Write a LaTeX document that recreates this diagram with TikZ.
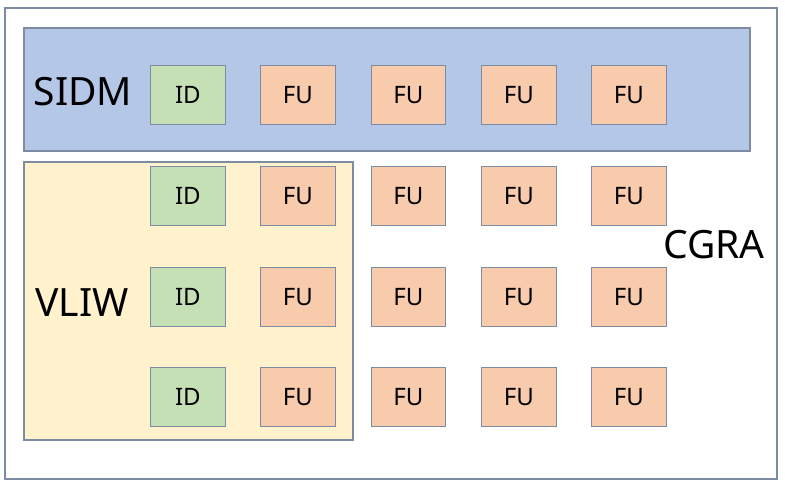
\documentclass[tikz,border=0pt]{standalone}
\usepackage{fontspec}
\setmainfont{Noto Sans}
\definecolor{edge}{HTML}{7E8CA3}
\definecolor{sidmfill}{HTML}{B4C7E7}
\definecolor{vliwfill}{HTML}{FFF2CC}
\definecolor{idfill}{HTML}{C5E0B4}
\definecolor{fufill}{HTML}{F8CBAD}
\begin{document}
\begin{tikzpicture}[x=1pt,y=-1pt,
  region/.style={draw=edge,line width=1.3pt},
  unit/.style={draw=edge,line width=1.3pt,minimum width=74.5pt,minimum height=59pt,inner sep=0pt,font=\fontsize{24}{24}\selectfont,anchor=north west},
  idbox/.style={unit,fill=idfill},
  fubox/.style={unit,fill=fufill},
  biglabel/.style={font=\fontsize{39}{39}\selectfont,inner sep=0pt}]
\useasboundingbox (0,0) rectangle (785,484);
\draw[region,fill=white] (5,8) rectangle (777,479);
\draw[region,fill=sidmfill] (24,28) rectangle (750,151);
\draw[region,fill=vliwfill] (24,162) rectangle (353,440);
\node[biglabel] (sidm) at (83,92) {SIDM};
\node[biglabel] (vliw) at (82,303) {VLIW};
\node[biglabel] (cgra) at (714,245) {CGRA};
% row 0 (SIDM)
\node[idbox] (id0) at (150,65) {ID};
\foreach \c/\x in {1/260,2/370.5,3/481,4/591}
  \node[fubox] (fu0\c) at (\x,65) {FU};
% rows 1-3
\foreach \r/\y in {1/166,2/267,3/367}{
  \node[idbox] (id\r) at (150,\y) {ID};
  \foreach \c/\x in {1/260,2/370.5,3/481,4/591}
    \node[fubox] (fu\r\c) at (\x,\y) {FU};
}
\end{tikzpicture}
\end{document}
